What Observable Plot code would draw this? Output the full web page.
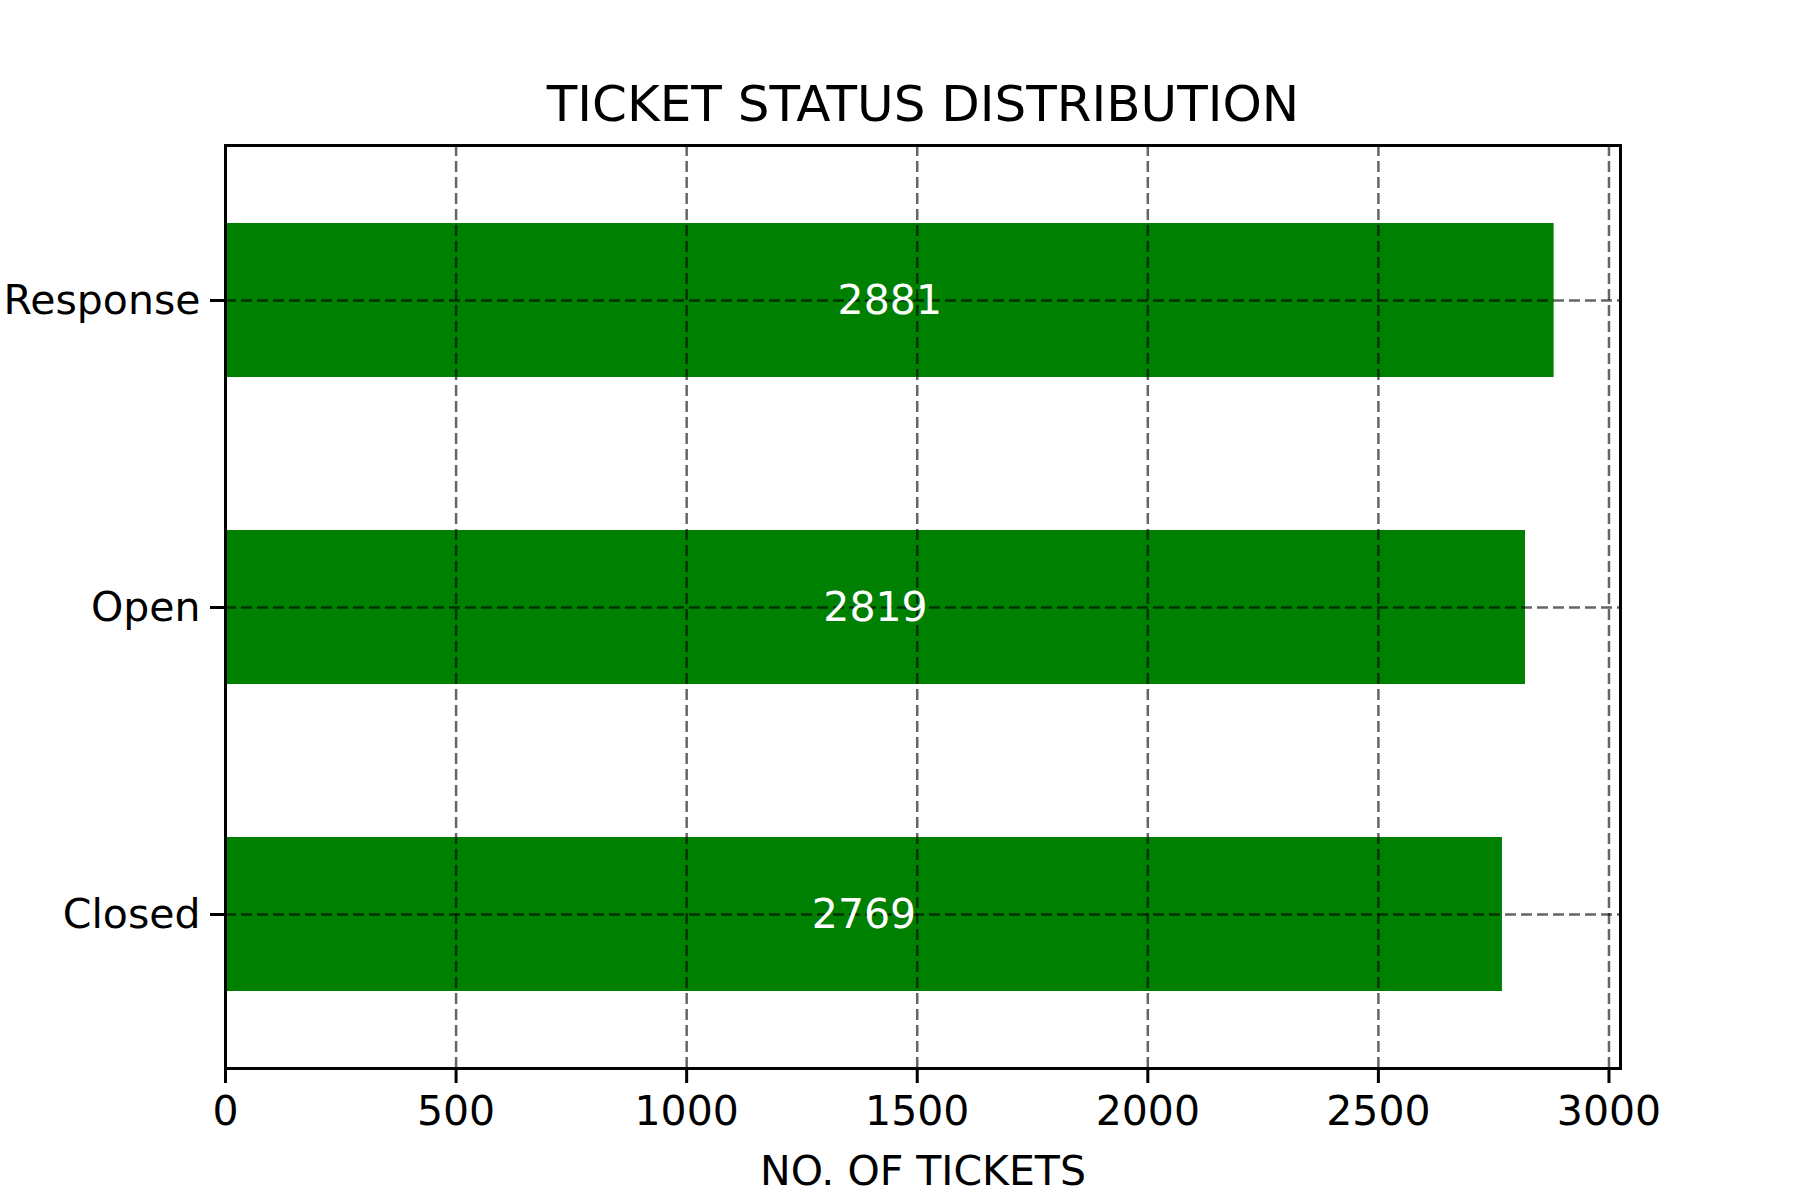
<!DOCTYPE html>
<html><head><meta charset="utf-8">
<script src="https://cdn.jsdelivr.net/npm/d3@7"></script>
<script src="https://cdn.jsdelivr.net/npm/@observablehq/plot@0.6"></script>
<style>body{margin:0;background:#fff}</style>
</head><body><div id="c"></div>
<script>
const statuses = ["Response", "Open", "Closed"];
const counts = [2881, 2819, 2769];
const xTicks = [0, 500, 1000, 1500, 2000, 2500, 3000];
const data = statuses.map((s, i) => ({status: s, count: counts[i]}));
const grid = {stroke: "#000", strokeOpacity: 0.6, strokeWidth: 2.5, strokeDasharray: "11,5"};
const chart = Plot.plot({
  width: 1800, height: 1200,
  marginLeft: 225, marginRight: 180, marginTop: 145, marginBottom: 132,
  style: {fontFamily: "DejaVu Sans", fontSize: "41px", background: "#fff", color: "#000"},
  x: {domain: [0, 3025], ticks: xTicks, label: null},
  y: {domain: statuses, paddingInner: 0.5, paddingOuter: 0.25, label: null},
  marks: [
    Plot.barX(data, {y: "status", x: "count", fill: "#008000"}),
    Plot.gridX(xTicks, {...grid}),
    Plot.gridY(statuses, {...grid}),
    Plot.text(data, {y: "status", x: d => d.count / 2, text: d => String(d.count), fill: "#fff", fontSize: 41}),
    Plot.frame({stroke: "#000", strokeWidth: 3}),
    Plot.axisX(xTicks, {tickSize: 15, tickPadding: 12, tickFormat: d => String(d), fontSize: 41, strokeWidth: 3, label: null}),
    Plot.axisY(statuses, {tickSize: 15, tickPadding: 10, fontSize: 41, strokeWidth: 3, label: null}),
    Plot.text(["TICKET STATUS DISTRIBUTION"], {frameAnchor: "top", dy: -60, fontSize: 50}),
    Plot.text(["NO. OF TICKETS"], {frameAnchor: "bottom", dy: 116, fontSize: 41})
  ]
});
document.getElementById("c").appendChild(chart);
</script></body></html>
